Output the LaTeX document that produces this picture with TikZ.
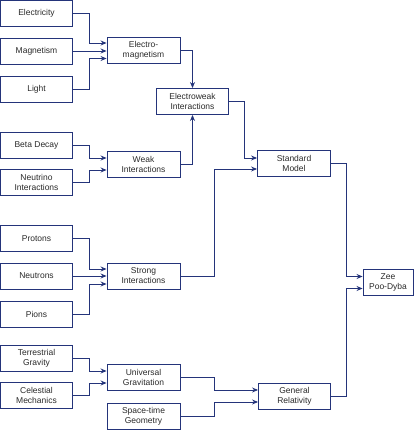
\documentclass[tikz,border=0pt]{standalone}
\usepackage{fontspec}
\setmainfont{Liberation Sans}
\usetikzlibrary{arrows.meta,calc}
\definecolor{navy}{HTML}{24347A}
\definecolor{txt}{HTML}{2A2A2A}
\begin{document}
\begin{tikzpicture}[x=1pt,y=-1pt,
  box/.style={draw=navy, line width=0.9pt, minimum width=72pt, minimum height=26pt, inner sep=0pt,
    align=center, text=txt, font=\fontsize{8.5}{10}\selectfont},
  conn/.style={draw=navy, line width=0.9pt, -{Stealth[length=6pt,width=5pt]}}]
\useasboundingbox (0,0) rectangle (413,430);
% left column
\node[box] (elec)  at (36.5,13.5) {Electricity};
\node[box] (magn)  at (36.5,51)   {Magnetism};
\node[box] (light) at (36.5,89)   {Light};
\node[box] (beta)  at (36.5,145)  {Beta Decay};
\node[box] (neut)  at (36.5,182.5){Neutrino\\Interactions};
\node[box] (prot)  at (36.5,238.5){Protons};
\node[box] (neutr) at (36.5,276)  {Neutrons};
\node[box] (pion)  at (36.5,314.5){Pions};
\node[box] (terr)  at (36.5,358)  {Terrestrial\\Gravity};
\node[box] (cel)   at (36.5,395)  {Celestial\\Mechanics};
% middle column
\node[box, minimum width=73pt] (em)     at (143.5,50.5) {Electro-\\magnetism};
\node[box, minimum width=73pt] (weak)   at (143.5,164)  {Weak\\Interactions};
\node[box, minimum width=73pt] (strong) at (143.5,276)  {Strong\\Interactions};
\node[box, minimum width=73pt] (univ)   at (143.5,377)  {Universal\\Gravitation};
\node[box, minimum width=73pt] (space)  at (143.5,416)  {Space-time\\Geometry};
% right part
\node[box] (ew)  at (192.5,101.5) {Electroweak\\Interactions};
\node[box, minimum width=73pt] (sm)  at (294,163.5) {Standard\\Model};
\node[box, minimum width=72pt] (gr)  at (294.5,396) {General\\Relativity};
\node[box, minimum width=50pt] (zee) at (388,282.5) {Zee\\Poo-Dyba};
% connectors
\draw[conn] (elec.east) -- ++(16.5,0) |- ($(em.west)+(0,-7.5)$);
\draw[conn] (magn.east) -- (magn.east -| em.west);
\draw[conn] (light.east) -- ++(16.5,0) |- ($(em.west)+(0,8)$);
\draw[conn] (beta.east) -- ++(16.5,0) |- ($(weak.west)+(0,-6)$);
\draw[conn] (neut.east) -- ++(16.5,0) |- ($(weak.west)+(0,6)$);
\draw[conn] (prot.east) -- ++(16.5,0) |- ($(strong.west)+(0,-7)$);
\draw[conn] (neutr.east) -- (strong.west);
\draw[conn] (pion.east) -- ++(16.5,0) |- ($(strong.west)+(0,8)$);
\draw[conn] (terr.east) -- ++(16.5,0) |- ($(univ.west)+(0,-6)$);
\draw[conn] (cel.east) -- ++(16.5,0) |- ($(univ.west)+(0,6)$);
\draw[conn] (em.east) -| (ew.north);
\draw[conn] (weak.east) -| (ew.south);
\draw[conn] (ew.east) -- ++(15,0) |- ($(sm.west)+(0,-5.5)$);
\draw[conn] (strong.east) -- ++(34,0) |- ($(sm.west)+(0,5.5)$);
\draw[conn] (univ.east) -- ++(34,0) |- ($(gr.west)+(0,-6)$);
\draw[conn] (space.east) -- ++(34,0) |- ($(gr.west)+(0,6)$);
\draw[conn] (sm.east) -- ++(15,0) |- ($(zee.west)+(0,-6)$);
\draw[conn] (gr.east) -- ++(15,0) |- ($(zee.west)+(0,6)$);
\end{tikzpicture}
\end{document}
